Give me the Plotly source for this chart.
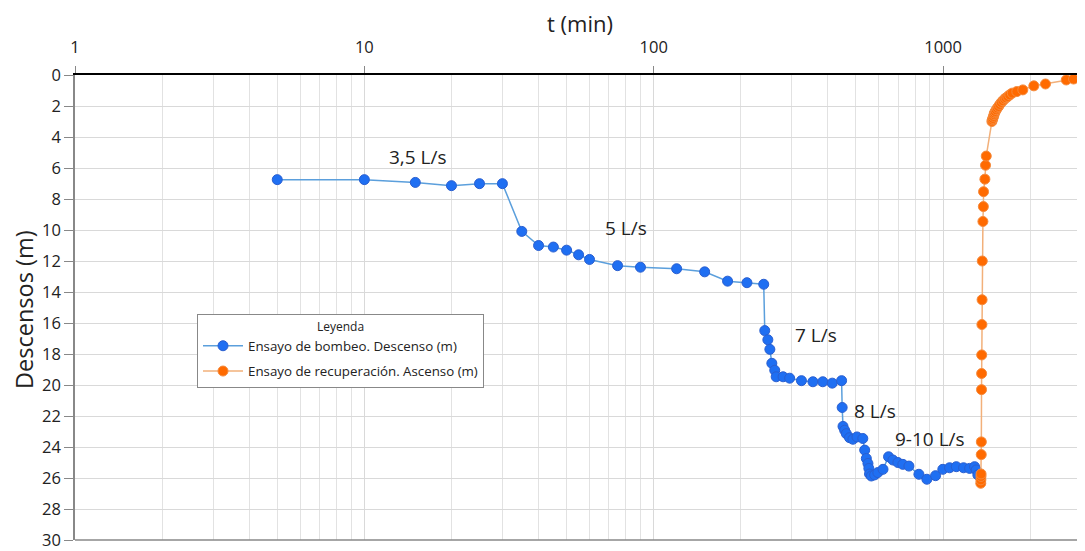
import plotly.graph_objects as go
import numpy as np

# --- Data ---
t_bombeo = [5, 10, 15, 20, 25, 30, 35, 40, 45, 50, 55, 60, 75, 90, 120, 150, 180, 210, 240,
            242, 248, 252, 256, 262, 265, 280, 295, 324, 355, 384, 414, 446, 448,
            451, 457, 463, 475, 488, 504, 528, 536, 543, 550, 554, 557, 565, 580, 595, 620,
            648, 671, 698, 726, 762, 825, 879, 942, 998, 1053, 1111, 1177, 1235, 1285, 1302, 1319]
s_bombeo = [6.75, 6.75, 6.93, 7.14, 7.01, 7.01, 10.09, 11.0, 11.1, 11.3, 11.6, 11.9, 12.3, 12.4, 12.5, 12.7, 13.3, 13.4, 13.5,
            16.49, 17.08, 17.7, 18.6, 19.05, 19.47, 19.47, 19.56, 19.72, 19.79, 19.79, 19.88, 19.72, 21.45,
            22.67, 22.92, 23.14, 23.4, 23.5, 23.35, 23.45, 24.2, 24.74, 25.06, 25.38, 25.74, 25.87, 25.8, 25.65, 25.44,
            24.63, 24.84, 25.0, 25.12, 25.23, 25.76, 26.08, 25.85, 25.44, 25.34, 25.27, 25.34, 25.38, 25.27, 25.48, 25.8]

t_recup = [1350, 1351, 1352, 1353, 1355, 1356, 1358, 1359, 1360, 1362, 1364, 1366,
           1373, 1378, 1380, 1395, 1402, 1410,
           1475, 1479, 1486, 1494, 1500, 1506, 1515, 1527, 1540, 1555, 1570, 1589, 1610, 1631,
           1650, 1674, 1700, 1734, 1798, 1886, 2059, 2259, 2665, 2824, 3026]
s_recup = [26.34, 26.12, 25.9, 25.74, 24.49, 23.67, 20.3, 19.26, 18.06, 16.1, 14.5, 12.0,
           9.45, 8.49, 7.53, 6.72, 5.82, 5.23,
           3.0, 2.9, 2.8, 2.67, 2.55, 2.45, 2.35, 2.24, 2.13, 2.03, 1.9, 1.77, 1.66, 1.55,
           1.47, 1.39, 1.28, 1.17, 1.07, 0.96, 0.7, 0.58, 0.32, 0.26, 0.21]

caudal_labels = ["3,5 L/s", "5 L/s", "7 L/s", "8 L/s", "9-10 L/s"]
caudal_t = [12, 66.7, 303, 484, 671]
caudal_s = [5.3, 9.9, 16.8, 21.7, 23.5]

x_major = [1, 10, 100, 1000]
x_major_text = ["1", "10", "100", "1000"]
x_minor = [m * 10 ** d for d in range(0, 4) for m in range(2, 10)]
y_ticks = list(range(0, 31, 2))

x_title = "t (min)"
y_title = "Descensos (m)"

FONT = "Open Sans"
TXT = "#222222"

# page has an 8px body margin: the figure is shifted by (8, 8)
W, H = 1077, 543
ML, MT, MB = 67, 67, 11
PW, PH = W - ML, H - MT - MB
BOT = 8 + H - MB  # page y of the plot bottom

fig = go.Figure()
fig.add_trace(go.Scatter(
    x=t_bombeo, y=s_bombeo, mode="lines+markers",
    name="Ensayo de bombeo. Descenso (m)", legendgroup="a",
    line=dict(color="#5b9fdc", width=1.5),
    marker=dict(size=10, color="#1f6ff2", line=dict(color="#2a5fd0", width=1)),
))
fig.add_trace(go.Scatter(
    x=t_recup, y=s_recup, mode="lines+markers",
    name="Ensayo de recuperación. Ascenso (m)", legendgroup="b",
    line=dict(color="#f2b07a", width=1.5),
    marker=dict(size=10, color="#ff6a00", line=dict(color="#f58a3c", width=1)),
))

for lab, tx, sy in zip(caudal_labels, caudal_t, caudal_s):
    fig.add_annotation(x=np.log10(tx), y=sy, text=lab, showarrow=False,
                       xanchor="left", yanchor="middle",
                       font=dict(family=FONT, size=19, color=TXT))

# axis titles (placed as text in paper space)
fig.add_annotation(xref="paper", yref="paper", x=(580 - 75) / PW, y=1 + (75 - 23) / PH,
                   text=x_title, showarrow=False, xanchor="center", yanchor="middle",
                   font=dict(family=FONT, size=22, color=TXT))
fig.add_annotation(xref="paper", yref="paper", x=-(75 - 24) / PW, y=(BOT - 310) / PH,
                   text=y_title, showarrow=False, xanchor="center", yanchor="middle", textangle=-90,
                   font=dict(family=FONT, size=23.5, color=TXT))

fig.update_layout(
    width=W, height=H,
    margin=dict(l=ML, r=0, t=MT, b=MB, autoexpand=False),
    paper_bgcolor="white", plot_bgcolor="white",
    font=dict(family=FONT, color=TXT),
    showlegend=True,
    legend=dict(
        x=(197 - 75) / PW, y=(BOT - 314) / PH, xanchor="left", yanchor="top",
        bgcolor="white", bordercolor="#888888", borderwidth=1,
        font=dict(family=FONT, size=13.3, color=TXT),
        title=dict(text="Leyenda", side="top center", font=dict(family=FONT, size=12, color=TXT)),
        itemwidth=40, tracegroupgap=5,
    ),
)

fig.update_xaxes(
    type="log", side="top", range=[0, 3.4905], automargin=False,
    tickmode="array", tickvals=x_major, ticktext=x_major_text,
    ticks="outside", ticklen=7, tickcolor="#888888", ticklabelstandoff=7,
    tickfont=dict(family=FONT, size=16.5, color=TXT),
    showgrid=True, gridcolor="#d9d9d9", gridwidth=1,
    minor=dict(tickmode="array", tickvals=x_minor, showgrid=True, gridcolor="#e2e2e2", gridwidth=1, ticks=""),
    showline=True, linecolor="#000000", linewidth=1.5,
    zeroline=False,
)
fig.update_yaxes(
    range=[30, 0], tickmode="array", tickvals=y_ticks, automargin=False,
    ticks="outside", ticklen=9, tickcolor="#888888", ticklabeloverflow="allow",
    tickfont=dict(family=FONT, size=16.5, color=TXT),
    showgrid=True, gridcolor="#d9d9d9", gridwidth=1,
    showline=True, linecolor="#888888", linewidth=1.5,
    zeroline=False,
)
fig.add_shape(type="line", xref="paper", yref="paper", x0=0, x1=1, y0=0, y1=0,
              line=dict(color="#888888", width=1.5))

fig.write_html("out.html")
